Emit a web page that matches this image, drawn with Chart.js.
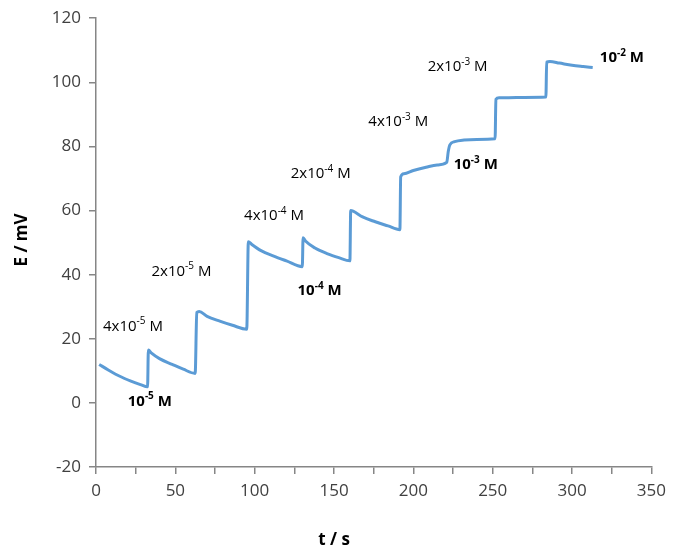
<!DOCTYPE html>
<html>
<head>
<meta charset="utf-8">
<script src="https://cdn.jsdelivr.net/npm/chart.js@4/dist/chart.umd.min.js"></script>
<style>
  html, body { margin: 0; padding: 0; background: #fff; }
  #wrap { width: 673px; height: 554px; position: relative; }
</style>
</head>
<body>
<div id="wrap"><canvas id="c" width="673" height="554"></canvas></div>
<script>
// ---- data ----
const timeS = [
  2, 8, 15, 22, 28, 32.5,
  33, 35, 40, 48, 55, 62.5,
  63.5, 65, 70, 78, 86, 95,
  96, 98, 104, 112, 120, 130,
  130.5, 132, 138, 146, 153, 160,
  160.5, 162, 168, 176, 184, 191.5,
  192, 194, 200, 208, 215, 221,
  222, 223, 226, 232, 240, 251.5,
  252, 254, 260, 270, 283.5,
  284, 286, 292, 300, 307, 313
];
const potentialMV = [
  12, 10.2, 8.3, 6.8, 5.7, 5,
  16.5, 15.5, 13.8, 12, 10.5, 9.2,
  28.2, 28.5, 27, 25.5, 24.2, 23,
  50.3, 49.5, 47.5, 45.8, 44.3, 42.5,
  51.5, 50.5, 48.3, 46.5, 45.3, 44.3,
  60, 59.8, 58, 56.5, 55.2, 54,
  70.5, 71.5, 72.5, 73.5, 74.2, 75,
  78.5, 80.5, 81.5, 82, 82.2, 82.4,
  94.7, 95.2, 95.2, 95.3, 95.4,
  106.3, 106.5, 106, 105.3, 104.9, 104.6
];
const yTicks = [-20, 0, 20, 40, 60, 80, 100, 120];
const xTickLabels = [0, 50, 100, 150, 200, 250, 300, 350];

// concentration annotations: [prefix, exponent, suffix, bold, t, E]
const concLabels = [
  ["4x10", "-5", " M", false, 4.4, 23.9],
  ["10",   "-5", " M", true, 20, 0.5],
  ["2x10", "-5", " M", false, 35, 41],
  ["4x10", "-4", " M", false, 93.3, 58.4],
  ["10",   "-4", " M", true, 127, 35],
  ["2x10", "-4", " M", false, 122.7, 71.5],
  ["4x10", "-3", " M", false, 171.6, 87.6],
  ["10",   "-3", " M", true, 225.4, 74.3],
  ["2x10", "-3", " M", false, 209, 104.8],
  ["10",   "-2", " M", true, 317.5, 107.6]
];

const points = timeS.map((t, i) => ({ x: t, y: potentialMV[i] }));

const labelPlugin = {
  id: 'labels',
  afterDraw(chart) {
    const ctx = chart.ctx;
    const xs = chart.scales.x, ys = chart.scales.y;
    ctx.save();
    ctx.fillStyle = '#000';
    ctx.textBaseline = 'middle';
    ctx.textAlign = 'left';
    concLabels.forEach(([pre, exp, suf, bold, t, e]) => {
      let x = xs.getPixelForValue(t);
      const y = ys.getPixelForValue(e);
      const w = bold ? 'bold ' : '';
      ctx.font = w + '15px "Open Sans"';
      ctx.fillText(pre, x, y);
      x += ctx.measureText(pre).width;
      ctx.font = w + '10px "Open Sans"';
      ctx.fillText(exp, x, y - 5);
      x += ctx.measureText(exp).width;
      ctx.font = w + '15px "Open Sans"';
      ctx.fillText(suf, x, y);
    });
    // axis titles
    ctx.font = 'bold 17px "Open Sans"';
    ctx.textAlign = 'center';
    ctx.fillText('t / s', 334, 540);
    ctx.translate(22, 240);
    ctx.rotate(-Math.PI / 2);
    ctx.fillText('E / mV', 0, 0);
    ctx.restore();
  }
};

new Chart(document.getElementById('c'), {
  type: 'scatter',
  data: {
    datasets: [{
      data: points,
      showLine: true,
      borderColor: '#5B9BD5',
      borderWidth: 3,
      pointRadius: 0,
      cubicInterpolationMode: 'monotone',
      fill: false
    }]
  },
  options: {
    responsive: false,
    animation: false,
    layout: { padding: { top: 17, right: 16, left: 0, bottom: 0 } },
    plugins: { legend: { display: false }, tooltip: { enabled: false } },
    scales: {
      x: {
        type: 'linear',
        min: 0, max: 350,
        afterFit(s) { s.height = 87; },
        afterBuildTicks(s) {
          const arr = [];
          for (let v = 0; v <= 350; v += 25) arr.push({ value: v });
          s.ticks = arr;
        },
        ticks: {
          font: { family: 'Open Sans', size: 17 },
          color: '#404040',
          padding: 7,
          maxRotation: 0,
          autoSkip: false,
          callback: (v) => xTickLabels.includes(v) ? String(v) : ''
        },
        grid: { drawOnChartArea: false, drawTicks: true, tickLength: 7, color: '#868686', lineWidth: 1.5 },
        border: { color: '#868686', width: 1.5 }
      },
      y: {
        type: 'linear',
        min: -20, max: 120,
        afterFit(s) { s.width = 96; },
        afterBuildTicks(s) { s.ticks = yTicks.map(v => ({ value: v })); },
        ticks: {
          font: { family: 'Open Sans', size: 17 },
          color: '#404040',
          padding: 8,
          callback: (v) => String(v)
        },
        grid: { drawOnChartArea: false, drawTicks: true, tickLength: 7, color: '#868686', lineWidth: 1.5 },
        border: { color: '#868686', width: 1.5 }
      }
    }
  },
  plugins: [labelPlugin]
});
</script>
</body>
</html>
